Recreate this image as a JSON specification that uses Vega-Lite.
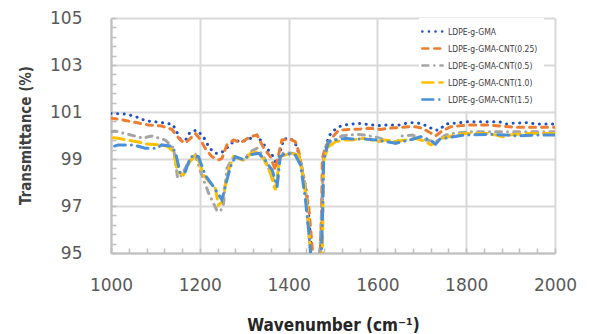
{
  "$schema": "https://vega.github.io/schema/vega-lite/v6.json",
  "autosize": {"type": "none"},
  "padding": {"left": 111, "top": 18, "right": 34, "bottom": 81},
  "width": 444,
  "height": 235,
  "background": "white",
  "config": {"view": {"stroke": null}},
  "data": {"values": [
    {"s":"LDPE-g-GMA","wn":1000,"T":100.94},{"s":"LDPE-g-GMA","wn":1035,"T":100.91},{"s":"LDPE-g-GMA","wn":1062,"T":100.76},{"s":"LDPE-g-GMA","wn":1077,"T":100.63},{"s":"LDPE-g-GMA","wn":1111,"T":100.56},{"s":"LDPE-g-GMA","wn":1139,"T":100.48},{"s":"LDPE-g-GMA","wn":1148,"T":100.16},{"s":"LDPE-g-GMA","wn":1156,"T":99.84},{"s":"LDPE-g-GMA","wn":1169,"T":99.84},{"s":"LDPE-g-GMA","wn":1178,"T":100.14},{"s":"LDPE-g-GMA","wn":1193,"T":100.23},{"s":"LDPE-g-GMA","wn":1208,"T":99.95},{"s":"LDPE-g-GMA","wn":1222,"T":99.46},{"s":"LDPE-g-GMA","wn":1235,"T":99.24},{"s":"LDPE-g-GMA","wn":1246,"T":99.24},{"s":"LDPE-g-GMA","wn":1257,"T":99.38},{"s":"LDPE-g-GMA","wn":1269,"T":99.64},{"s":"LDPE-g-GMA","wn":1280,"T":99.78},{"s":"LDPE-g-GMA","wn":1295,"T":99.74},{"s":"LDPE-g-GMA","wn":1310,"T":99.84},{"s":"LDPE-g-GMA","wn":1329,"T":100.02},{"s":"LDPE-g-GMA","wn":1340,"T":99.71},{"s":"LDPE-g-GMA","wn":1351,"T":99.46},{"s":"LDPE-g-GMA","wn":1363,"T":99.17},{"s":"LDPE-g-GMA","wn":1374,"T":98.74},{"s":"LDPE-g-GMA","wn":1381,"T":99.31},{"s":"LDPE-g-GMA","wn":1389,"T":99.85},{"s":"LDPE-g-GMA","wn":1404,"T":99.88},{"s":"LDPE-g-GMA","wn":1415,"T":99.67},{"s":"LDPE-g-GMA","wn":1423,"T":99.24},{"s":"LDPE-g-GMA","wn":1434,"T":98.25},{"s":"LDPE-g-GMA","wn":1442,"T":97.4},{"s":"LDPE-g-GMA","wn":1450,"T":95.5},{"s":"LDPE-g-GMA","wn":1458,"T":93.5},{"s":"LDPE-g-GMA","wn":1466,"T":93.5},{"s":"LDPE-g-GMA","wn":1472,"T":95.2},{"s":"LDPE-g-GMA","wn":1479,"T":99.1},{"s":"LDPE-g-GMA","wn":1490,"T":99.95},{"s":"LDPE-g-GMA","wn":1498,"T":100.16},{"s":"LDPE-g-GMA","wn":1513,"T":100.37},{"s":"LDPE-g-GMA","wn":1527,"T":100.45},{"s":"LDPE-g-GMA","wn":1557,"T":100.52},{"s":"LDPE-g-GMA","wn":1588,"T":100.45},{"s":"LDPE-g-GMA","wn":1603,"T":100.42},{"s":"LDPE-g-GMA","wn":1622,"T":100.45},{"s":"LDPE-g-GMA","wn":1649,"T":100.45},{"s":"LDPE-g-GMA","wn":1665,"T":100.52},{"s":"LDPE-g-GMA","wn":1680,"T":100.55},{"s":"LDPE-g-GMA","wn":1694,"T":100.52},{"s":"LDPE-g-GMA","wn":1713,"T":100.4},{"s":"LDPE-g-GMA","wn":1728,"T":100.23},{"s":"LDPE-g-GMA","wn":1739,"T":100.23},{"s":"LDPE-g-GMA","wn":1754,"T":100.49},{"s":"LDPE-g-GMA","wn":1770,"T":100.52},{"s":"LDPE-g-GMA","wn":1788,"T":100.55},{"s":"LDPE-g-GMA","wn":1807,"T":100.59},{"s":"LDPE-g-GMA","wn":1874,"T":100.59},{"s":"LDPE-g-GMA","wn":1889,"T":100.49},{"s":"LDPE-g-GMA","wn":1905,"T":100.52},{"s":"LDPE-g-GMA","wn":1938,"T":100.55},{"s":"LDPE-g-GMA","wn":1957,"T":100.49},{"s":"LDPE-g-GMA","wn":2000,"T":100.49},

    {"s":"LDPE-g-GMA-CNT(0.25)","wn":1000,"T":100.73},{"s":"LDPE-g-GMA-CNT(0.25)","wn":1020,"T":100.69},{"s":"LDPE-g-GMA-CNT(0.25)","wn":1035,"T":100.63},{"s":"LDPE-g-GMA-CNT(0.25)","wn":1065,"T":100.52},{"s":"LDPE-g-GMA-CNT(0.25)","wn":1084,"T":100.45},{"s":"LDPE-g-GMA-CNT(0.25)","wn":1114,"T":100.4},{"s":"LDPE-g-GMA-CNT(0.25)","wn":1137,"T":100.26},{"s":"LDPE-g-GMA-CNT(0.25)","wn":1148,"T":100.0},{"s":"LDPE-g-GMA-CNT(0.25)","wn":1156,"T":99.81},{"s":"LDPE-g-GMA-CNT(0.25)","wn":1167,"T":99.67},{"s":"LDPE-g-GMA-CNT(0.25)","wn":1175,"T":99.81},{"s":"LDPE-g-GMA-CNT(0.25)","wn":1190,"T":100.09},{"s":"LDPE-g-GMA-CNT(0.25)","wn":1201,"T":99.84},{"s":"LDPE-g-GMA-CNT(0.25)","wn":1212,"T":99.46},{"s":"LDPE-g-GMA-CNT(0.25)","wn":1227,"T":99.1},{"s":"LDPE-g-GMA-CNT(0.25)","wn":1242,"T":98.96},{"s":"LDPE-g-GMA-CNT(0.25)","wn":1250,"T":99.03},{"s":"LDPE-g-GMA-CNT(0.25)","wn":1261,"T":99.6},{"s":"LDPE-g-GMA-CNT(0.25)","wn":1276,"T":99.81},{"s":"LDPE-g-GMA-CNT(0.25)","wn":1291,"T":99.69},{"s":"LDPE-g-GMA-CNT(0.25)","wn":1302,"T":99.81},{"s":"LDPE-g-GMA-CNT(0.25)","wn":1314,"T":99.95},{"s":"LDPE-g-GMA-CNT(0.25)","wn":1329,"T":100.02},{"s":"LDPE-g-GMA-CNT(0.25)","wn":1344,"T":99.46},{"s":"LDPE-g-GMA-CNT(0.25)","wn":1359,"T":99.1},{"s":"LDPE-g-GMA-CNT(0.25)","wn":1370,"T":98.53},{"s":"LDPE-g-GMA-CNT(0.25)","wn":1378,"T":99.24},{"s":"LDPE-g-GMA-CNT(0.25)","wn":1385,"T":99.81},{"s":"LDPE-g-GMA-CNT(0.25)","wn":1404,"T":99.84},{"s":"LDPE-g-GMA-CNT(0.25)","wn":1415,"T":99.74},{"s":"LDPE-g-GMA-CNT(0.25)","wn":1423,"T":99.31},{"s":"LDPE-g-GMA-CNT(0.25)","wn":1430,"T":98.6},{"s":"LDPE-g-GMA-CNT(0.25)","wn":1438,"T":97.61},{"s":"LDPE-g-GMA-CNT(0.25)","wn":1445,"T":97.04},{"s":"LDPE-g-GMA-CNT(0.25)","wn":1452,"T":95.5},{"s":"LDPE-g-GMA-CNT(0.25)","wn":1460,"T":93.5},{"s":"LDPE-g-GMA-CNT(0.25)","wn":1468,"T":93.5},{"s":"LDPE-g-GMA-CNT(0.25)","wn":1474,"T":96.5},{"s":"LDPE-g-GMA-CNT(0.25)","wn":1476,"T":99.03},{"s":"LDPE-g-GMA-CNT(0.25)","wn":1483,"T":99.52},{"s":"LDPE-g-GMA-CNT(0.25)","wn":1490,"T":99.74},{"s":"LDPE-g-GMA-CNT(0.25)","wn":1513,"T":100.23},{"s":"LDPE-g-GMA-CNT(0.25)","wn":1562,"T":100.28},{"s":"LDPE-g-GMA-CNT(0.25)","wn":1581,"T":100.31},{"s":"LDPE-g-GMA-CNT(0.25)","wn":1607,"T":100.26},{"s":"LDPE-g-GMA-CNT(0.25)","wn":1626,"T":100.31},{"s":"LDPE-g-GMA-CNT(0.25)","wn":1671,"T":100.37},{"s":"LDPE-g-GMA-CNT(0.25)","wn":1686,"T":100.37},{"s":"LDPE-g-GMA-CNT(0.25)","wn":1701,"T":100.31},{"s":"LDPE-g-GMA-CNT(0.25)","wn":1724,"T":100.06},{"s":"LDPE-g-GMA-CNT(0.25)","wn":1731,"T":99.98},{"s":"LDPE-g-GMA-CNT(0.25)","wn":1743,"T":100.16},{"s":"LDPE-g-GMA-CNT(0.25)","wn":1765,"T":100.37},{"s":"LDPE-g-GMA-CNT(0.25)","wn":1788,"T":100.42},{"s":"LDPE-g-GMA-CNT(0.25)","wn":1807,"T":100.45},{"s":"LDPE-g-GMA-CNT(0.25)","wn":1844,"T":100.45},{"s":"LDPE-g-GMA-CNT(0.25)","wn":1867,"T":100.42},{"s":"LDPE-g-GMA-CNT(0.25)","wn":1912,"T":100.35},{"s":"LDPE-g-GMA-CNT(0.25)","wn":2000,"T":100.35},

    {"s":"LDPE-g-GMA-CNT(0.5)","wn":1000,"T":100.16},{"s":"LDPE-g-GMA-CNT(0.5)","wn":1009,"T":100.19},{"s":"LDPE-g-GMA-CNT(0.5)","wn":1039,"T":100.05},{"s":"LDPE-g-GMA-CNT(0.5)","wn":1073,"T":99.88},{"s":"LDPE-g-GMA-CNT(0.5)","wn":1084,"T":99.95},{"s":"LDPE-g-GMA-CNT(0.5)","wn":1092,"T":99.98},{"s":"LDPE-g-GMA-CNT(0.5)","wn":1122,"T":99.81},{"s":"LDPE-g-GMA-CNT(0.5)","wn":1141,"T":99.46},{"s":"LDPE-g-GMA-CNT(0.5)","wn":1150,"T":98.18},{"s":"LDPE-g-GMA-CNT(0.5)","wn":1160,"T":98.32},{"s":"LDPE-g-GMA-CNT(0.5)","wn":1175,"T":98.9},{"s":"LDPE-g-GMA-CNT(0.5)","wn":1190,"T":99.17},{"s":"LDPE-g-GMA-CNT(0.5)","wn":1201,"T":98.5},{"s":"LDPE-g-GMA-CNT(0.5)","wn":1220,"T":97.54},{"s":"LDPE-g-GMA-CNT(0.5)","wn":1238,"T":96.83},{"s":"LDPE-g-GMA-CNT(0.5)","wn":1246,"T":96.76},{"s":"LDPE-g-GMA-CNT(0.5)","wn":1253,"T":97.04},{"s":"LDPE-g-GMA-CNT(0.5)","wn":1261,"T":98.6},{"s":"LDPE-g-GMA-CNT(0.5)","wn":1276,"T":99.1},{"s":"LDPE-g-GMA-CNT(0.5)","wn":1299,"T":98.96},{"s":"LDPE-g-GMA-CNT(0.5)","wn":1314,"T":99.31},{"s":"LDPE-g-GMA-CNT(0.5)","wn":1329,"T":99.46},{"s":"LDPE-g-GMA-CNT(0.5)","wn":1344,"T":99.1},{"s":"LDPE-g-GMA-CNT(0.5)","wn":1366,"T":98.11},{"s":"LDPE-g-GMA-CNT(0.5)","wn":1374,"T":97.82},{"s":"LDPE-g-GMA-CNT(0.5)","wn":1381,"T":99.1},{"s":"LDPE-g-GMA-CNT(0.5)","wn":1389,"T":99.27},{"s":"LDPE-g-GMA-CNT(0.5)","wn":1411,"T":99.24},{"s":"LDPE-g-GMA-CNT(0.5)","wn":1423,"T":99.1},{"s":"LDPE-g-GMA-CNT(0.5)","wn":1430,"T":98.67},{"s":"LDPE-g-GMA-CNT(0.5)","wn":1438,"T":97.82},{"s":"LDPE-g-GMA-CNT(0.5)","wn":1446,"T":95.8},{"s":"LDPE-g-GMA-CNT(0.5)","wn":1455,"T":93.5},{"s":"LDPE-g-GMA-CNT(0.5)","wn":1465,"T":93.5},{"s":"LDPE-g-GMA-CNT(0.5)","wn":1472,"T":95.69},{"s":"LDPE-g-GMA-CNT(0.5)","wn":1479,"T":99.1},{"s":"LDPE-g-GMA-CNT(0.5)","wn":1490,"T":99.67},{"s":"LDPE-g-GMA-CNT(0.5)","wn":1521,"T":99.99},{"s":"LDPE-g-GMA-CNT(0.5)","wn":1555,"T":100.05},{"s":"LDPE-g-GMA-CNT(0.5)","wn":1570,"T":100.02},{"s":"LDPE-g-GMA-CNT(0.5)","wn":1600,"T":99.92},{"s":"LDPE-g-GMA-CNT(0.5)","wn":1641,"T":99.67},{"s":"LDPE-g-GMA-CNT(0.5)","wn":1656,"T":99.98},{"s":"LDPE-g-GMA-CNT(0.5)","wn":1679,"T":100.02},{"s":"LDPE-g-GMA-CNT(0.5)","wn":1709,"T":99.81},{"s":"LDPE-g-GMA-CNT(0.5)","wn":1731,"T":99.74},{"s":"LDPE-g-GMA-CNT(0.5)","wn":1754,"T":100.02},{"s":"LDPE-g-GMA-CNT(0.5)","wn":1773,"T":100.09},{"s":"LDPE-g-GMA-CNT(0.5)","wn":1807,"T":100.16},{"s":"LDPE-g-GMA-CNT(0.5)","wn":2000,"T":100.16},

    {"s":"LDPE-g-GMA-CNT(1.0)","wn":1005,"T":99.9},{"s":"LDPE-g-GMA-CNT(1.0)","wn":1016,"T":99.88},{"s":"LDPE-g-GMA-CNT(1.0)","wn":1035,"T":99.81},{"s":"LDPE-g-GMA-CNT(1.0)","wn":1065,"T":99.71},{"s":"LDPE-g-GMA-CNT(1.0)","wn":1077,"T":99.64},{"s":"LDPE-g-GMA-CNT(1.0)","wn":1107,"T":99.6},{"s":"LDPE-g-GMA-CNT(1.0)","wn":1126,"T":99.55},{"s":"LDPE-g-GMA-CNT(1.0)","wn":1141,"T":99.31},{"s":"LDPE-g-GMA-CNT(1.0)","wn":1150,"T":98.46},{"s":"LDPE-g-GMA-CNT(1.0)","wn":1163,"T":98.32},{"s":"LDPE-g-GMA-CNT(1.0)","wn":1178,"T":98.89},{"s":"LDPE-g-GMA-CNT(1.0)","wn":1190,"T":99.17},{"s":"LDPE-g-GMA-CNT(1.0)","wn":1197,"T":98.96},{"s":"LDPE-g-GMA-CNT(1.0)","wn":1208,"T":98.32},{"s":"LDPE-g-GMA-CNT(1.0)","wn":1224,"T":97.97},{"s":"LDPE-g-GMA-CNT(1.0)","wn":1235,"T":97.75},{"s":"LDPE-g-GMA-CNT(1.0)","wn":1242,"T":97.04},{"s":"LDPE-g-GMA-CNT(1.0)","wn":1250,"T":97.18},{"s":"LDPE-g-GMA-CNT(1.0)","wn":1265,"T":98.53},{"s":"LDPE-g-GMA-CNT(1.0)","wn":1276,"T":99.1},{"s":"LDPE-g-GMA-CNT(1.0)","wn":1287,"T":99.03},{"s":"LDPE-g-GMA-CNT(1.0)","wn":1302,"T":98.93},{"s":"LDPE-g-GMA-CNT(1.0)","wn":1314,"T":99.24},{"s":"LDPE-g-GMA-CNT(1.0)","wn":1329,"T":99.3},{"s":"LDPE-g-GMA-CNT(1.0)","wn":1344,"T":99.0},{"s":"LDPE-g-GMA-CNT(1.0)","wn":1359,"T":98.4},{"s":"LDPE-g-GMA-CNT(1.0)","wn":1370,"T":97.68},{"s":"LDPE-g-GMA-CNT(1.0)","wn":1381,"T":99.1},{"s":"LDPE-g-GMA-CNT(1.0)","wn":1404,"T":99.24},{"s":"LDPE-g-GMA-CNT(1.0)","wn":1423,"T":99.17},{"s":"LDPE-g-GMA-CNT(1.0)","wn":1434,"T":98.11},{"s":"LDPE-g-GMA-CNT(1.0)","wn":1442,"T":96.97},{"s":"LDPE-g-GMA-CNT(1.0)","wn":1449,"T":95.0},{"s":"LDPE-g-GMA-CNT(1.0)","wn":1456,"T":93.5},{"s":"LDPE-g-GMA-CNT(1.0)","wn":1468,"T":93.5},{"s":"LDPE-g-GMA-CNT(1.0)","wn":1476,"T":95.0},{"s":"LDPE-g-GMA-CNT(1.0)","wn":1479,"T":98.96},{"s":"LDPE-g-GMA-CNT(1.0)","wn":1490,"T":99.52},{"s":"LDPE-g-GMA-CNT(1.0)","wn":1506,"T":99.74},{"s":"LDPE-g-GMA-CNT(1.0)","wn":1524,"T":99.81},{"s":"LDPE-g-GMA-CNT(1.0)","wn":1543,"T":99.81},{"s":"LDPE-g-GMA-CNT(1.0)","wn":1566,"T":99.88},{"s":"LDPE-g-GMA-CNT(1.0)","wn":1588,"T":99.81},{"s":"LDPE-g-GMA-CNT(1.0)","wn":1603,"T":99.74},{"s":"LDPE-g-GMA-CNT(1.0)","wn":1615,"T":99.81},{"s":"LDPE-g-GMA-CNT(1.0)","wn":1641,"T":99.75},{"s":"LDPE-g-GMA-CNT(1.0)","wn":1664,"T":99.81},{"s":"LDPE-g-GMA-CNT(1.0)","wn":1686,"T":99.88},{"s":"LDPE-g-GMA-CNT(1.0)","wn":1709,"T":99.74},{"s":"LDPE-g-GMA-CNT(1.0)","wn":1720,"T":99.6},{"s":"LDPE-g-GMA-CNT(1.0)","wn":1731,"T":99.67},{"s":"LDPE-g-GMA-CNT(1.0)","wn":1746,"T":99.88},{"s":"LDPE-g-GMA-CNT(1.0)","wn":1777,"T":100.02},{"s":"LDPE-g-GMA-CNT(1.0)","wn":1799,"T":100.08},{"s":"LDPE-g-GMA-CNT(1.0)","wn":1844,"T":100.09},{"s":"LDPE-g-GMA-CNT(1.0)","wn":1867,"T":100.02},{"s":"LDPE-g-GMA-CNT(1.0)","wn":1882,"T":99.95},{"s":"LDPE-g-GMA-CNT(1.0)","wn":1897,"T":100.02},{"s":"LDPE-g-GMA-CNT(1.0)","wn":1935,"T":100.09},{"s":"LDPE-g-GMA-CNT(1.0)","wn":2000,"T":100.09},

    {"s":"LDPE-g-GMA-CNT(1.5)","wn":1008,"T":99.55},{"s":"LDPE-g-GMA-CNT(1.5)","wn":1016,"T":99.6},{"s":"LDPE-g-GMA-CNT(1.5)","wn":1050,"T":99.6},{"s":"LDPE-g-GMA-CNT(1.5)","wn":1077,"T":99.46},{"s":"LDPE-g-GMA-CNT(1.5)","wn":1103,"T":99.46},{"s":"LDPE-g-GMA-CNT(1.5)","wn":1114,"T":99.6},{"s":"LDPE-g-GMA-CNT(1.5)","wn":1135,"T":99.55},{"s":"LDPE-g-GMA-CNT(1.5)","wn":1145,"T":99.3},{"s":"LDPE-g-GMA-CNT(1.5)","wn":1156,"T":98.39},{"s":"LDPE-g-GMA-CNT(1.5)","wn":1167,"T":98.46},{"s":"LDPE-g-GMA-CNT(1.5)","wn":1178,"T":99.03},{"s":"LDPE-g-GMA-CNT(1.5)","wn":1186,"T":99.17},{"s":"LDPE-g-GMA-CNT(1.5)","wn":1197,"T":99.1},{"s":"LDPE-g-GMA-CNT(1.5)","wn":1212,"T":98.32},{"s":"LDPE-g-GMA-CNT(1.5)","wn":1231,"T":97.82},{"s":"LDPE-g-GMA-CNT(1.5)","wn":1250,"T":97.26},{"s":"LDPE-g-GMA-CNT(1.5)","wn":1257,"T":97.82},{"s":"LDPE-g-GMA-CNT(1.5)","wn":1269,"T":98.67},{"s":"LDPE-g-GMA-CNT(1.5)","wn":1280,"T":99.1},{"s":"LDPE-g-GMA-CNT(1.5)","wn":1299,"T":98.96},{"s":"LDPE-g-GMA-CNT(1.5)","wn":1310,"T":99.17},{"s":"LDPE-g-GMA-CNT(1.5)","wn":1333,"T":99.24},{"s":"LDPE-g-GMA-CNT(1.5)","wn":1344,"T":99.03},{"s":"LDPE-g-GMA-CNT(1.5)","wn":1363,"T":98.53},{"s":"LDPE-g-GMA-CNT(1.5)","wn":1374,"T":97.82},{"s":"LDPE-g-GMA-CNT(1.5)","wn":1381,"T":99.1},{"s":"LDPE-g-GMA-CNT(1.5)","wn":1393,"T":99.24},{"s":"LDPE-g-GMA-CNT(1.5)","wn":1415,"T":99.17},{"s":"LDPE-g-GMA-CNT(1.5)","wn":1427,"T":98.74},{"s":"LDPE-g-GMA-CNT(1.5)","wn":1438,"T":97.26},{"s":"LDPE-g-GMA-CNT(1.5)","wn":1445,"T":95.98},{"s":"LDPE-g-GMA-CNT(1.5)","wn":1452,"T":94.5},{"s":"LDPE-g-GMA-CNT(1.5)","wn":1460,"T":93.5},{"s":"LDPE-g-GMA-CNT(1.5)","wn":1468,"T":93.5},{"s":"LDPE-g-GMA-CNT(1.5)","wn":1474,"T":95.0},{"s":"LDPE-g-GMA-CNT(1.5)","wn":1476,"T":96.26},{"s":"LDPE-g-GMA-CNT(1.5)","wn":1479,"T":98.96},{"s":"LDPE-g-GMA-CNT(1.5)","wn":1490,"T":99.74},{"s":"LDPE-g-GMA-CNT(1.5)","wn":1506,"T":99.81},{"s":"LDPE-g-GMA-CNT(1.5)","wn":1528,"T":99.88},{"s":"LDPE-g-GMA-CNT(1.5)","wn":1543,"T":99.85},{"s":"LDPE-g-GMA-CNT(1.5)","wn":1570,"T":99.85},{"s":"LDPE-g-GMA-CNT(1.5)","wn":1600,"T":99.8},{"s":"LDPE-g-GMA-CNT(1.5)","wn":1641,"T":99.67},{"s":"LDPE-g-GMA-CNT(1.5)","wn":1656,"T":99.74},{"s":"LDPE-g-GMA-CNT(1.5)","wn":1679,"T":99.84},{"s":"LDPE-g-GMA-CNT(1.5)","wn":1698,"T":99.95},{"s":"LDPE-g-GMA-CNT(1.5)","wn":1720,"T":99.8},{"s":"LDPE-g-GMA-CNT(1.5)","wn":1731,"T":99.63},{"s":"LDPE-g-GMA-CNT(1.5)","wn":1741,"T":99.85},{"s":"LDPE-g-GMA-CNT(1.5)","wn":1795,"T":100.02},{"s":"LDPE-g-GMA-CNT(1.5)","wn":1855,"T":100.05},{"s":"LDPE-g-GMA-CNT(1.5)","wn":1893,"T":100.02},{"s":"LDPE-g-GMA-CNT(1.5)","wn":1912,"T":99.98},{"s":"LDPE-g-GMA-CNT(1.5)","wn":1961,"T":100.02},{"s":"LDPE-g-GMA-CNT(1.5)","wn":2000,"T":100.02}
  ]},
  "mark": {"type": "line", "clip": true, "strokeWidth": 3, "strokeCap": "round"},
  "encoding": {
    "x": {
      "field": "wn", "type": "quantitative",
      "scale": {"domain": [1000, 2000], "nice": false, "zero": false},
      "axis": {
        "title": "Wavenumber (cm⁻¹)",
        "values": [1000,1040,1080,1120,1160,1200,1240,1280,1320,1360,1400,1440,1480,1520,1560,1600,1640,1680,1720,1760,1800,1840,1880,1920,1960,2000],
        "labelExpr": "datum.value % 200 === 0 ? format(datum.value, 'd') : ''",
        "gridOpacity": {"condition": {"test": "datum.value % 200 === 0", "value": 1}, "value": 0},
        "gridColor": "#d9d9d9", "gridWidth": 2,
        "domainColor": "#bfbfbf", "domainWidth": 2,
        "tickColor": "#bfbfbf", "tickWidth": 1.5, "tickSize": -5,
        "labelFont": "DejaVu Sans", "labelFontSize": 17, "labelColor": "#595959",
        "labelPadding": 29, "labelFlush": false,
        "titleFont": "DejaVu Sans Condensed", "titleFontWeight": "bold", "titleFontSize": 17, "titleColor": "#262626",
        "titleX": 222, "titleY": 72, "titleBaseline": "middle", "titleAlign": "center"
      }
    },
    "y": {
      "field": "T", "type": "quantitative",
      "scale": {"domain": [95, 105], "nice": false, "zero": false},
      "axis": {
        "title": "Transmittance (%)",
        "values": [95,95.4,95.8,96.2,96.6,97,97.4,97.8,98.2,98.6,99,99.4,99.8,100.2,100.6,101,101.4,101.8,102.2,102.6,103,103.4,103.8,104.2,104.6,105],
        "labelExpr": "round(datum.value*10) % 20 === 10 ? format(datum.value, 'd') : ''",
        "gridOpacity": {"condition": {"test": "round(datum.value*10) % 20 === 10", "value": 1}, "value": 0},
        "gridColor": "#d9d9d9", "gridWidth": 2,
        "domainColor": "#bfbfbf", "domainWidth": 2,
        "tickColor": "#bfbfbf", "tickWidth": 1.5, "tickSize": -5,
        "labelFont": "DejaVu Sans", "labelFontSize": 17, "labelColor": "#595959",
        "labelPadding": 34, "labelFlush": false,
        "titleFont": "DejaVu Sans Condensed", "titleFontWeight": "bold", "titleFontSize": 15, "titleColor": "#404040",
        "titleX": -86, "titleY": 117, "titleAngle": -90, "titleBaseline": "middle", "titleAlign": "center"
      }
    },
    "color": {
      "field": "s", "type": "nominal",
      "scale": {
        "domain": ["LDPE-g-GMA","LDPE-g-GMA-CNT(0.25)","LDPE-g-GMA-CNT(0.5)","LDPE-g-GMA-CNT(1.0)","LDPE-g-GMA-CNT(1.5)"],
        "range": ["#1f4fc4","#ED7D31","#A5A5A5","#FFC000","#4a90d9"]
      },
      "legend": {
        "title": null, "orient": "none", "legendX": 308, "legendY": 0,
        "fillColor": "white", "padding": 6,
        "symbolType": "M-1.7,0H1.7", "symbolSize": 144, "symbolStrokeWidth": 2.5,
        "labelFont": "DejaVu Sans Condensed", "labelFontSize": 8.5, "labelColor": "#404040",
        "labelOffset": 8, "rowPadding": 4,
        "encode": {"symbols": {"update": {"strokeCap": {"value": "round"}}}}
      }
    },
    "strokeDash": {
      "field": "s", "type": "nominal",
      "scale": {
        "domain": ["LDPE-g-GMA","LDPE-g-GMA-CNT(0.25)","LDPE-g-GMA-CNT(0.5)","LDPE-g-GMA-CNT(1.0)","LDPE-g-GMA-CNT(1.5)"],
        "range": [[0.1,6.5],[6,6],[6,6,0.1,6],[11,6],[11,6,0.1,6]]
      },
      "legend": null
    }
  }
}
